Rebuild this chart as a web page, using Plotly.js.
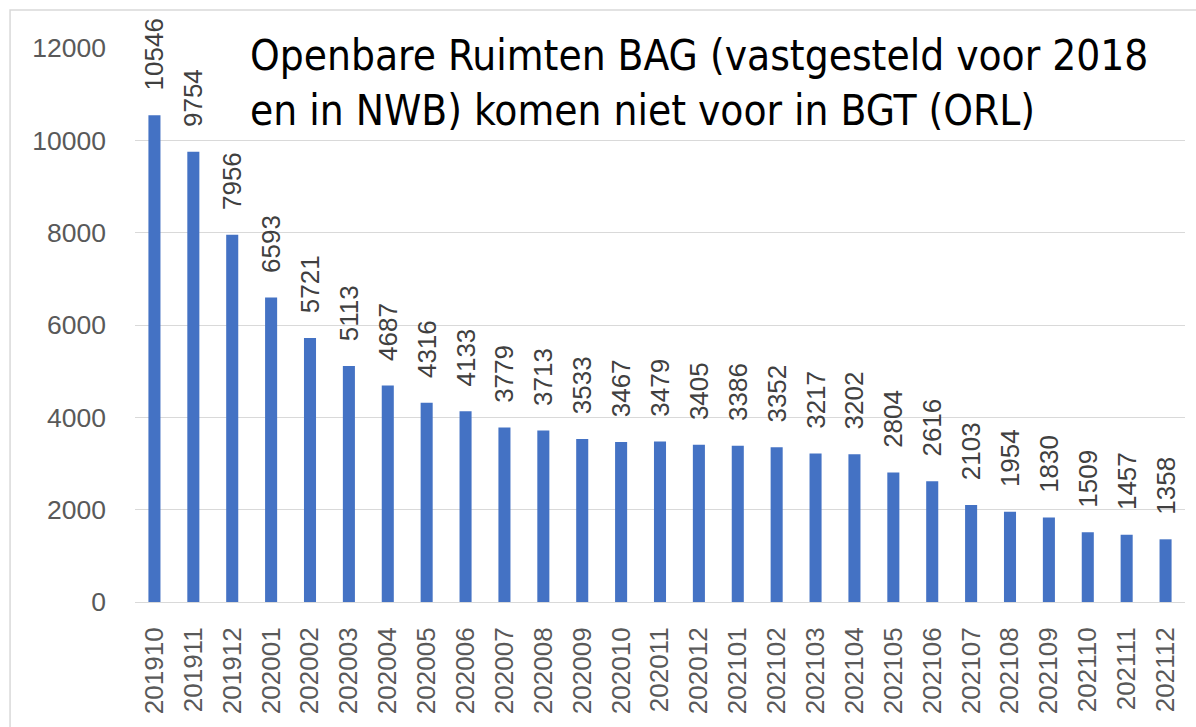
<!DOCTYPE html>
<html><head><meta charset="utf-8">
<script src="https://cdn.plot.ly/plotly-3.0.1.min.js"></script>
<style>html,body{margin:0;padding:0;background:#fff;}#chart{width:1196px;height:727px;}</style>
</head><body><div id="chart"></div>
<script>
const categories = ["201910","201911","201912","202001","202002","202003","202004","202005","202006","202007","202008","202009","202010","202011","202012","202101","202102","202103","202104","202105","202106","202107","202108","202109","202110","202111","202112"];
const counts = [10546,9754,7956,6593,5721,5113,4687,4316,4133,3779,3713,3533,3467,3479,3405,3386,3352,3217,3202,2804,2616,2103,1954,1830,1509,1457,1358];
const yTicks = [0,2000,4000,6000,8000,10000,12000];
const titleText = "Openbare Ruimten BAG (vastgesteld voor 2018<br>en in NWB) komen niet voor in BGT (ORL)";

const numFont = "Liberation Sans, Arial, sans-serif";
const trace = {
  type: 'bar', x: categories, y: counts,
  marker: {color: '#4472C4'},
  text: counts.map(String),
  texttemplate: '\u00a0\u00a0\u00a0%{text}',
  textposition: 'outside', textangle: -90,
  constraintext: 'none', cliponaxis: false,
  textfont: {family: numFont, size: 26, color: '#404040'},
  hoverinfo: 'x+y'
};
const layout = {
  width: 1196, height: 727,
  margin: {l: 135, r: 11, t: 48, b: 125, pad: 0},
  paper_bgcolor: '#fff', plot_bgcolor: '#fff',
  bargap: 0.69, showlegend: false,
  xaxis: {type: 'category', tickangle: -90, tickfont: {family: numFont, size: 26, color: '#595959'},
          showgrid: false, showline: true, linecolor: '#D9D9D9', linewidth: 1, ticks: '', ticklabelstandoff: 14},
  yaxis: {range: [0, 12000], tickvals: yTicks, ticktext: yTicks.map(String),
          tickfont: {family: numFont, size: 26.5, color: '#595959'},
          gridcolor: '#D9D9D9', gridwidth: 1, zeroline: false, showline: false, ticks: '', ticklabelstandoff: 28},
  annotations: [{xref: 'paper', yref: 'paper', x: 0.108, y: 1.035, xanchor: 'left', yanchor: 'top', align: 'left',
    showarrow: false, text: titleText,
    font: {family: "Liberation Sans Narrow, DejaVu Sans Condensed, sans-serif", size: 42, color: '#000'}}],
  shapes: [{type: 'rect', xref: 'paper', yref: 'paper', x0: -0.119, x1: 1.2, y0: -0.4, y1: 1.0686,
    line: {color: '#D9D9D9', width: 1.5}, fillcolor: 'rgba(0,0,0,0)', layer: 'below'}]
};
Plotly.newPlot('chart', [trace], layout, {displayModeBar: false, staticPlot: true});
</script></body></html>
